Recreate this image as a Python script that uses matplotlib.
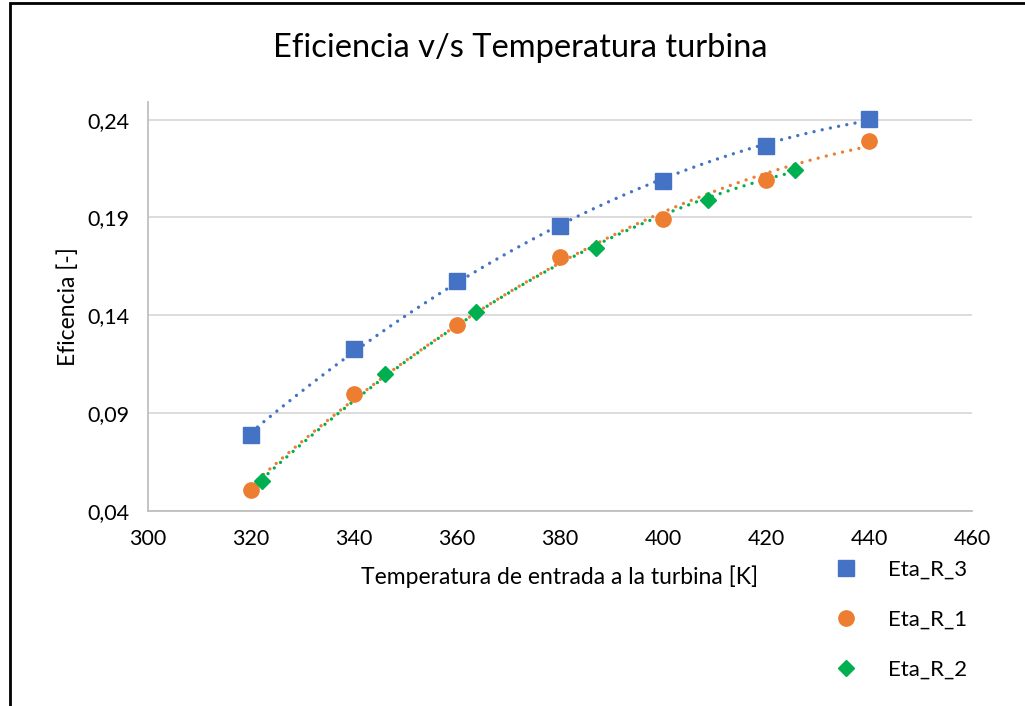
import matplotlib.pyplot as plt
import numpy as np
from matplotlib.patches import Rectangle
from matplotlib.ticker import FuncFormatter

plt.rcParams['font.family'] = ['Lato', 'DejaVu Sans']

# Turbine inlet temperature [K] and efficiency for each case
temp_r3 = [320, 340, 360, 380, 400, 420, 440]
eta_r3 = [0.0789, 0.1229, 0.1576, 0.1858, 0.2088, 0.2267, 0.2405]

temp_r1 = [320, 340, 360, 380, 400, 420, 440]
eta_r1 = [0.0507, 0.0998, 0.1351, 0.1699, 0.1894, 0.2093, 0.2293]

temp_r2 = [322.1, 346.0, 363.7, 387.0, 408.7, 425.6]
eta_r2 = [0.0553, 0.1101, 0.1418, 0.1745, 0.1991, 0.2144]

series = [
    ("Eta_R_3", temp_r3, eta_r3, "#4472C4", "s", 11.5),
    ("Eta_R_1", temp_r1, eta_r1, "#ED7D31", "o", 11),
    ("Eta_R_2", temp_r2, eta_r2, "#00B050", "D", 8.5),
]

fig = plt.figure(figsize=(10.25, 7.06), dpi=100)
ax = fig.add_axes([0.1444, 0.2762, 0.8039, 0.5793])

for name, x, y, color, marker, ms in series:
    ax.plot(x, y, linestyle="none", marker=marker, markersize=ms,
            color=color, label=name, zorder=3)
    # second order polynomial trendline over the data range
    coef = np.polyfit(x, y, 2)
    xs = np.linspace(min(x), max(x), 200)
    ax.plot(xs, np.polyval(coef, xs), color=color, lw=2.4,
            linestyle=(0, (0.01, 2.5)), dash_capstyle="round", zorder=2)

ax.set_xlim(300, 460)
ax.set_ylim(0.04, 0.249)
ax.set_xticks(np.arange(300, 461, 20))
ax.set_yticks([0.04, 0.09, 0.14, 0.19, 0.24])
ax.yaxis.set_major_formatter(FuncFormatter(lambda v, p: f"{v:.2f}".replace(".", ",")))
ax.tick_params(length=0, labelsize=15.5)
ax.tick_params(axis="x", pad=13)
ax.tick_params(axis="y", pad=13.5)

ax.yaxis.grid(True, color="#D9D9D9", lw=1.3)
ax.set_axisbelow(True)
for side in ["top", "right"]:
    ax.spines[side].set_visible(False)
for side in ["left", "bottom"]:
    ax.spines[side].set_color("#BFBFBF")
    ax.spines[side].set_linewidth(1.3)

ax.set_xlabel("Temperatura de entrada a la turbina [K]", fontsize=16.5, labelpad=12)
ax.set_ylabel("Eficencia [-]", fontsize=16.5, labelpad=5.5)
fig.text(0.508, 0.932, "Eficiencia v/s Temperatura turbina", ha="center",
         va="center", fontsize=23.5)

leg = ax.legend(loc="upper left", bbox_to_anchor=(0.795, 0.236),
                bbox_transform=fig.transFigure, frameon=False, fontsize=16,
                labelspacing=1.35, handletextpad=1.4, handlelength=1.0)

# outer chart border
fig.patches.append(Rectangle((9.5 / 1025, -0.5), 2.0, 1.5 - 3.0 / 706,
                             transform=fig.transFigure, fill=False,
                             edgecolor="black", lw=2.0))

fig.savefig("out.png", dpi=100)
